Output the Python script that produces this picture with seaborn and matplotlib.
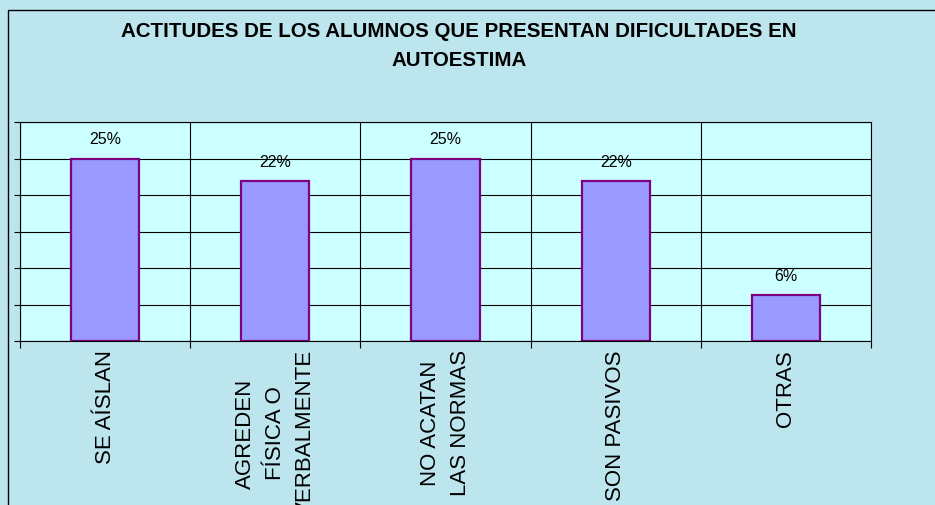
import numpy as np
import pandas as pd
import matplotlib
matplotlib.use("Agg")
import matplotlib.pyplot as plt
import seaborn as sns
from matplotlib.patches import Rectangle

# datos (porcentajes)
categorias = ["SE AÍSLAN", "AGREDEN\nFÍSICA O\nVERBALMENTE", "NO ACATAN\nLAS NORMAS",
              "SON PASIVOS", "OTRAS"]
porcentajes = [25.0, 21.875, 25.0, 21.875, 6.25]
etiquetas = ["25%", "22%", "25%", "22%", "6%"]
titulo = "ACTITUDES DE LOS ALUMNOS QUE PRESENTAN DIFICULTADES EN\nAUTOESTIMA"

df = pd.DataFrame({"actitud": categorias, "pct": porcentajes})

sns.set_style("white")
plt.rcParams["font.family"] = ["Liberation Sans", "DejaVu Sans"]
plt.rcParams["text.color"] = "black"
plt.rcParams["xtick.color"] = "black"
plt.rcParams["ytick.color"] = "black"

fig = plt.figure(figsize=(9.35, 5.06), dpi=100)
fig.patch.set_facecolor("#BCE5EE")

ax = fig.add_axes([20 / 935, 1 - 342 / 506, 851 / 935, 219 / 506])
ax.set_facecolor("#CCFFFF")

sns.barplot(data=df, x="actitud", y="pct", ax=ax, width=0.4,
            color="#9999FF", edgecolor="#800080", linewidth=1.6, saturation=1)

for barra, txt in zip(ax.patches, etiquetas):
    ax.annotate(txt, (barra.get_x() + barra.get_width() / 2, barra.get_height()),
                xytext=(0, 14.5), textcoords="offset points",
                ha="center", va="center", fontsize=11.5, color="black")

ax.set_ylim(0, 30)
ax.set_yticks(np.arange(0, 31, 5))
ax.set_yticklabels([])
ax.set_xlim(-0.5, 4.5)
ax.set_xticks(np.arange(-0.5, 5, 1), minor=True)
ax.grid(True, axis="y", color="black", linewidth=0.8)
ax.grid(True, axis="x", which="minor", color="black", linewidth=0.8)
ax.set_axisbelow(True)
ax.tick_params(axis="y", left=True, length=4, width=0.8, direction="out", color="black")
ax.tick_params(axis="x", which="major", length=0, pad=6, labelcolor="black")
ax.tick_params(axis="x", which="minor", bottom=True, length=5, width=0.8, direction="out", color="black")
ax.set_xticklabels(categorias, rotation=90, fontsize=16, linespacing=1.55)
for t in ax.get_xticklabels():
    t.set_multialignment("center")
    t.set_verticalalignment("top")
ax.set_xlabel("")
ax.set_ylabel("")
for s in ax.spines.values():
    s.set_visible(True)
    s.set_color("black")
    s.set_linewidth(0.8)

fig.text(459 / 935, 1 - 46 / 506, titulo, ha="center", va="center",
         fontsize=14.8, fontweight="bold", linespacing=1.68, color="black")

# borde del area del grafico (se sale por la derecha y abajo)
fig.add_artist(Rectangle((8 / 935, -0.2), 1.2, 1.2 - 11 / 506, transform=fig.transFigure,
                         fill=False, edgecolor="black", linewidth=1))

fig.savefig("out.png", dpi=100, facecolor=fig.get_facecolor())
